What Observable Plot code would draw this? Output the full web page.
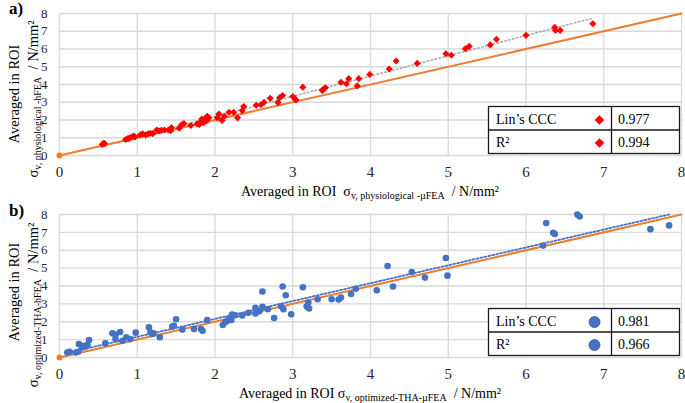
<!DOCTYPE html>
<html><head><meta charset="utf-8">
<script src="https://cdn.jsdelivr.net/npm/d3@7"></script>
<script src="https://cdn.jsdelivr.net/npm/@observablehq/plot@0.6"></script>
<style>
body{margin:0;background:#fff;}
#wrap{width:685px;height:403px;position:relative;overflow:hidden;font-family:'Liberation Serif','Times New Roman',serif;}
svg{display:block}
#wrap svg, #wrap svg text, #wrap svg tspan{font-family:'Liberation Serif','Times New Roman',serif !important;}
</style></head><body><div id="wrap"></div>
<script>
// ---------- data ----------
const panelLabels = ["a)", "b)"];
const ticks = [0, 1, 2, 3, 4, 5, 6, 7, 8];
const identityX = [0, 8]; // line of identity y = x

// a) physiological: µFEA (x) vs hFEA (y)
const aX = [0.55,0.58,0.57,0.85,0.88,0.90,0.92,0.95,0.97,1.04,1.07,1.11,1.14,1.17,1.20,1.25,1.28,1.31,1.35,1.40,1.44,1.43,
  1.54,1.57,1.60,1.69,1.77,1.82,1.84,1.86,1.88,1.90,1.85,1.87,1.92,1.83,1.89,1.80,
  2.05,2.09,2.12,2.03,2.18,2.24,2.29,2.35,2.37,2.53,2.59,2.63,2.71,2.81,2.83,2.87,
  3.00,3.03,3.04,3.13,3.38,3.40,3.42,3.39,3.62,3.69,3.72,3.83,3.85,3.99,
  4.24,4.33,4.60,4.97,5.04,5.22,5.27,5.54,5.62,6.00,6.37,6.38,6.44,6.86];
const aY = [0.62,0.66,0.70,0.90,0.95,0.97,1.03,1.09,1.05,1.16,1.22,1.16,1.22,1.25,1.23,1.44,1.39,1.42,1.44,1.44,1.57,1.40,
  1.54,1.73,1.80,1.69,1.78,1.91,2.00,1.97,2.10,2.21,1.85,2.05,2.12,2.05,1.95,1.75,
  2.34,1.97,2.21,2.12,2.44,2.44,2.12,2.53,2.76,2.83,2.86,3.00,3.22,2.98,3.25,3.38,
  3.32,3.19,3.13,3.85,3.66,3.75,3.82,3.70,4.12,4.04,4.33,3.92,4.33,4.56,
  4.87,5.32,5.19,5.73,5.65,6.01,6.15,6.23,6.55,6.77,7.22,7.05,7.05,7.42];

// b) optimized THA: µFEA (x) vs hFEA (y)
const bX = [0.10,0.13,0.21,0.24,0.25,0.29,0.31,0.33,0.36,0.38,0.59,0.68,0.72,0.78,0.72,0.81,0.86,0.91,0.98,
  1.15,1.17,1.19,1.21,1.29,1.45,1.47,1.50,1.58,1.73,1.82,1.84,1.90,
  2.10,2.13,2.16,2.18,2.21,2.22,2.26,2.35,2.43,2.52,2.57,2.52,2.61,2.68,2.61,2.76,2.85,2.88,2.87,2.91,2.98,
  3.13,3.18,3.20,3.21,3.19,3.32,3.50,3.59,3.62,3.75,3.81,
  4.08,4.22,4.29,4.53,4.70,4.97,4.99,6.22,6.26,6.35,6.37,6.66,6.69,7.60,7.84];
const bY = [0.28,0.32,0.28,0.32,0.75,0.56,0.66,0.60,0.71,0.98,0.79,1.35,1.28,1.43,1.03,0.94,1.13,1.03,1.39,
  1.69,1.41,1.31,1.35,1.13,1.73,1.78,2.14,1.56,1.59,1.59,1.50,2.10,
  1.82,1.97,2.06,2.16,2.10,2.40,2.36,2.35,2.50,2.78,2.59,2.46,2.83,2.70,3.69,2.21,2.87,2.70,3.97,3.48,2.42,
  3.93,2.87,3.07,2.74,2.83,3.26,3.26,3.24,3.35,3.55,3.85,
  3.76,5.12,3.97,4.78,4.47,5.57,4.58,6.26,7.52,6.98,6.91,8.00,7.89,7.18,7.39];

const legendLabels = ["Lin\u2019s CCC", "R\u00b2"];
const legendValuesA = ["0.977", "0.994"];
const legendValuesB = ["0.981", "0.966"];

// ---------- drawing ----------
const FONT = "'Liberation Serif','Times New Roman',serif";
const wrap = d3.select("#wrap");

function panel(cfg) {
  const data = cfg.xs.map((x, i) => ({x, y: cfg.ys[i]}));
  const idData = identityX.map(v => ({x: v, y: v}));
  const svg = Plot.plot({
    width: 685, height: cfg.height,
    marginLeft: 59, marginRight: 4, marginTop: cfg.marginTop, marginBottom: cfg.marginBottom,
    style: {fontFamily: FONT, background: "transparent", color: "#262626"},
    x: {domain: [0, 8]}, y: {domain: [0, 8]},
    marks: [
      Plot.gridX({ticks, stroke: "#d9d9d9", strokeOpacity: 1, strokeWidth: 1.3}),
      Plot.gridY({ticks, stroke: "#d9d9d9", strokeOpacity: 1, strokeWidth: 1.3}),
      Plot.axisX({ticks, tickSize: 0, tickPadding: 11, fontSize: 15, label: null}),
      Plot.axisY({ticks, tickSize: 0, tickPadding: 12, fontSize: 13, label: null}),
      Plot.linearRegressionY(data, {x: "x", y: "y", ci: 0, stroke: cfg.trendColor,
        strokeWidth: cfg.trendWidth, strokeDasharray: cfg.trendDash}),
      Plot.line(idData, {x: "x", y: "y", stroke: "#ED7D31", strokeWidth: 2}),
      Plot.dot(idData.slice(0, 1), {x: "x", y: "y", r: 3, fill: "#ED7D31"}),
      Plot.dot(data, {x: "x", y: "y", symbol: cfg.symbol, r: cfg.r, fill: cfg.color, stroke: "none"})
    ]
  });
  const s = d3.select(svg);
  // panel label
  s.append("text").attr("x", 9).attr("y", 14).attr("font-size", 17).attr("font-weight", "bold")
    .attr("text-anchor", "start").attr("fill", "#000").text(cfg.label);
  // y title line 1
  s.append("text").attr("transform", `translate(18.5,${cfg.y1})rotate(-90)`).attr("text-anchor", "middle")
    .attr("font-size", 14.5).attr("fill", "#000").text("Averaged in ROI");
  // y title line 2
  const t2 = s.append("text").attr("transform", `translate(38,${cfg.y2})rotate(-90)`).attr("text-anchor", "middle")
    .attr("font-size", 14.5).attr("fill", "#000").style("white-space", "pre");
  t2.append("tspan").text("\u03c3");
  t2.append("tspan").attr("font-size", 10).attr("dy", 3).text(cfg.ySub);
  t2.append("tspan").attr("dy", -3).text("  / N/mm\u00b2");
  // x title
  const tx = s.append("text").attr("x", 370).attr("y", 196).attr("text-anchor", "middle")
    .attr("font-size", 14).attr("fill", "#000").style("white-space", "pre");
  tx.append("tspan").text(cfg.xPre + "\u03c3");
  tx.append("tspan").attr("font-size", 10).attr("dy", 3).text(cfg.xSub);
  tx.append("tspan").attr("dy", -3).text("  / N/mm\u00b2");
  // legend table
  const L = s.append("g").attr("font-size", 14).attr("fill", "#000").attr("text-anchor", "start");
  L.append("rect").attr("x", 488.5).attr("y", 106.5).attr("width", 191).attr("height", 47)
    .attr("fill", "#fff").attr("stroke", "#1a1a1a").attr("stroke-width", 1.3);
  L.append("line").attr("x1", 488.5).attr("x2", 679.5).attr("y1", 130).attr("y2", 130).attr("stroke", "#1a1a1a").attr("stroke-width", 1.3);
  L.append("line").attr("x1", 611.5).attr("x2", 611.5).attr("y1", 106.5).attr("y2", 153.5).attr("stroke", "#1a1a1a").attr("stroke-width", 1.3);
  legendLabels.forEach((lab, i) => {
    const by = 124 + i * 23;
    L.append("text").attr("x", 496).attr("y", by).attr("text-anchor", "start").text(lab);
    L.append("text").attr("x", 618).attr("y", by).attr("text-anchor", "start").text(cfg.values[i]);
    const cy = 120 + i * 23;
    if (cfg.legendMarker === "diamond") {
      L.append("path").attr("d", d3.symbol(d3.symbolDiamond2, 60)()).attr("transform", `translate(599.5,${cy})`).attr("fill", cfg.color);
    } else {
      L.append("circle").attr("cx", 594.5).attr("cy", cy).attr("r", 5.5).attr("fill", cfg.color).attr("stroke", "#2f5597").attr("stroke-width", 0.8);
    }
  });
  wrap.append(() => svg);
}

panel({xs: aX, ys: aY, label: panelLabels[0], height: 202, marginTop: 13, marginBottom: 47,
  color: "#ff0000", symbol: "diamond2", r: 3.2, trendColor: "#a6a6a6", trendWidth: 1.5, trendDash: "1.5,2.5",
  ySub: "v, physiological -hFEA", xPre: "Averaged in ROI  ", xSub: "v, physiological -\u00b5FEA",
  y1: 94, y2: 99, values: legendValuesA, legendMarker: "diamond"});

panel({xs: bX, ys: bY, label: panelLabels[1], height: 201, marginTop: 12, marginBottom: 46,
  color: "#4472c4", symbol: "circle", r: 3.3, trendColor: "#4472c4", trendWidth: 1.8, trendDash: "2,2",
  ySub: "v, optimized-THA-hFEA", xPre: "Averaged in ROI ", xSub: "v, optimized-THA-\u00b5FEA",
  y1: 90, y2: 103, values: legendValuesB, legendMarker: "circle"});
</script></body></html>
